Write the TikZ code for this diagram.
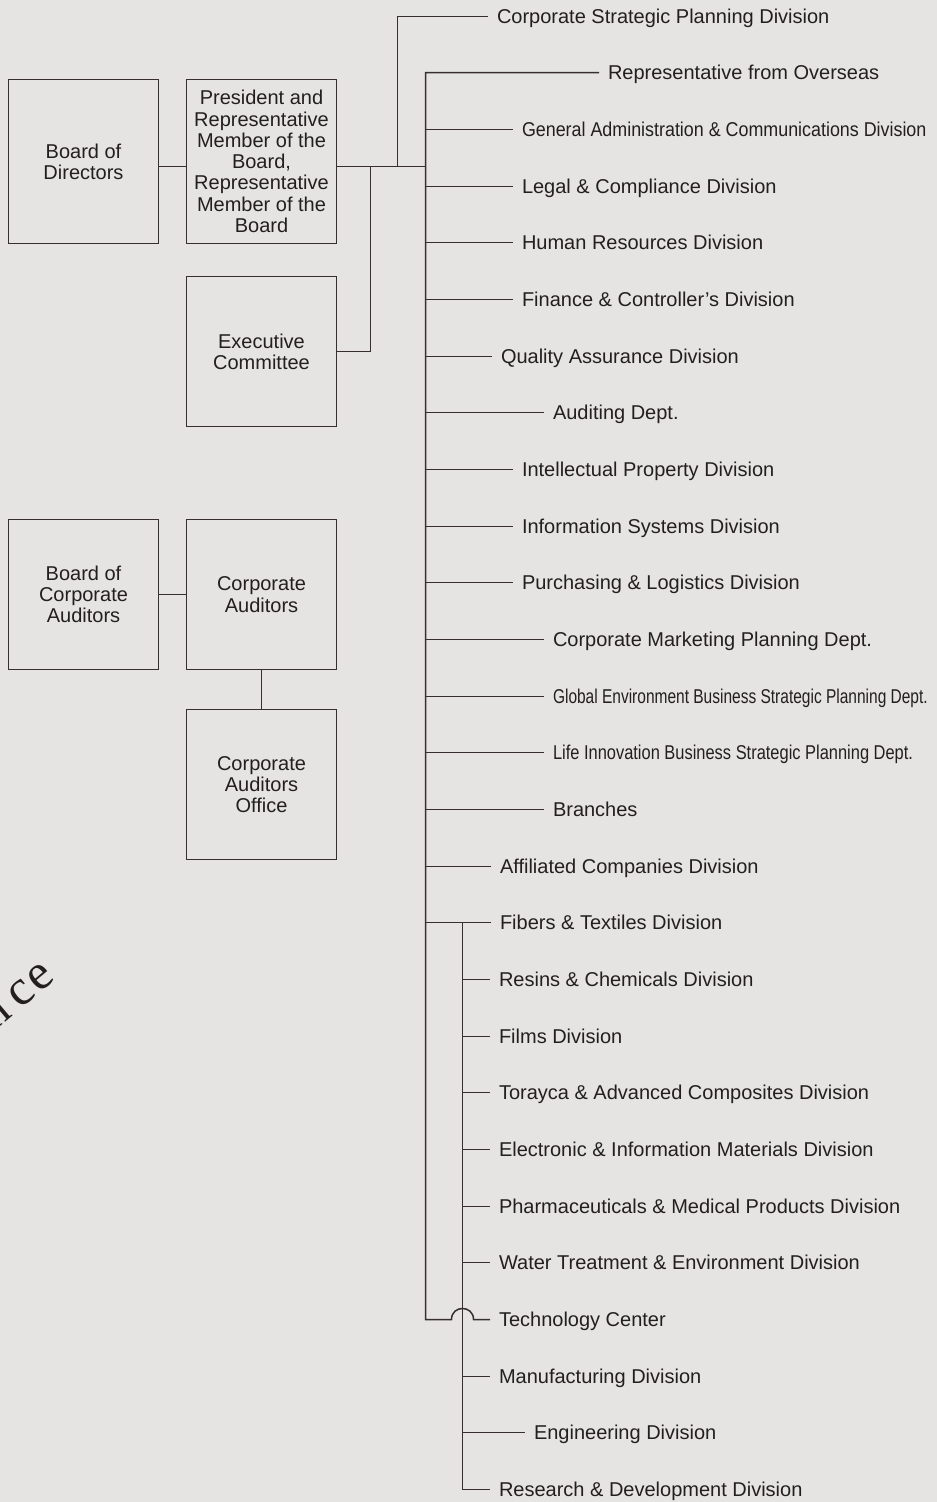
\documentclass[tikz,border=0pt]{standalone}
\usepackage{fontspec}
\usepackage{graphicx}
\setmainfont{Liberation Sans}
\newfontfamily\wmfont[LetterSpace=6]{Liberation Serif}
\definecolor{bg}{RGB}{229,228,226}
\definecolor{ln}{RGB}{55,47,47}
\definecolor{tx}{RGB}{35,31,32}
\newcommand{\cnd}[2]{\scalebox{#1}[1]{#2}}
\tikzset{
  box/.style={draw=ln, line width=1.5pt, minimum width=150pt, inner sep=0pt,
    align=center, text=tx, font=\fontsize{20}{21.3}\selectfont},
  lbl/.style={anchor=west, inner xsep=9pt, inner ysep=0pt, outer sep=0pt,
    text height=14pt, text depth=0pt, text=tx, font=\fontsize{20}{24}\selectfont},
  wm/.style={rotate=40, anchor=base east, inner sep=0pt, text=tx,
    font=\wmfont\fontsize{50}{50}\selectfont},
  conn/.style={draw=ln, line width=1.5pt},
}
\begin{document}
\begin{tikzpicture}[x=1pt, y=-1pt]
\path[use as bounding box, fill=bg] (0,0) rectangle (937,1502);
\clip (0,0) rectangle (937,1502);

% watermark fragment
\node[wm] (wmce) at (57,979) {ce};
\node[wm] (wmn) at ([shift={(-7,6)}]wmce.base west) {n};

% boxes
\node[box, minimum height=164pt] (bod) at (83.5,161.5) {Board of\\Directors};
\node[box, minimum height=164pt] (pres) at (261.5,161.5)
  {President and\\Representative\\Member of the\\Board,\\Representative\\Member of the\\Board};
\node[box, minimum height=150pt] (exec) at (261.5,351.5) {Executive\\Committee};
\node[box, minimum height=150pt] (boca) at (83.5,594.5) {Board of\\Corporate\\Auditors};
\node[box, minimum height=150pt] (ca) at (261.5,594.5) {Corporate\\Auditors};
\node[box, minimum height=150pt] (cao) at (261.5,784.5) {Corporate\\Auditors\\Office};

% labels
\node[lbl] (n1)  at (488,16.5)    {Corporate Strategic Planning Division};
\node[lbl] (n2)  at (599,72.5)    {Representative from Overseas};
\node[lbl] (n3)  at (513,129.5)   {\cnd{0.894}{General Administration \& Communications Division}};
\node[lbl] (n4)  at (513,186.5)   {Legal \& Compliance Division};
\node[lbl] (n5)  at (513,242.5)   {Human Resources Division};
\node[lbl] (n6)  at (513,299.5)   {Finance \& Controller’s Division};
\node[lbl] (n7)  at (492,356.5)   {Quality Assurance Division};
\node[lbl] (n8)  at (544,412.5)   {Auditing Dept.};
\node[lbl] (n9)  at (513,469.5)   {Intellectual Property Division};
\node[lbl] (n10) at (513,526.5)   {Information Systems Division};
\node[lbl] (n11) at (513,582.5)   {Purchasing \& Logistics Division};
\node[lbl] (n12) at (544,639.5)   {Corporate Marketing Planning Dept.};
\node[lbl] (n13) at (544,696.5)   {\cnd{0.775}{Global Environment Business Strategic Planning Dept.}};
\node[lbl] (n14) at (544,752.5)   {\cnd{0.822}{Life Innovation Business Strategic Planning Dept.}};
\node[lbl] (n15) at (544,809.5)   {Branches};
\node[lbl] (n16) at (491,866.5)   {Affiliated Companies Division};
\node[lbl] (n17) at (491,922.5)   {Fibers \& Textiles Division};
\node[lbl] (n18) at (490,979.5)   {Resins \& Chemicals Division};
\node[lbl] (n19) at (490,1036.5)  {Films Division};
\node[lbl] (n20) at (490,1092.5)  {Torayca \& Advanced Composites Division};
\node[lbl] (n21) at (490,1149.5)  {Electronic \& Information Materials Division};
\node[lbl] (n22) at (490,1206.5)  {Pharmaceuticals \& Medical Products Division};
\node[lbl] (n23) at (490,1262.5)  {Water Treatment \& Environment Division};
\node[lbl] (n24) at (490,1319.5)  {Technology Center};
\node[lbl] (n25) at (490,1376.5)  {Manufacturing Division};
\node[lbl] (n26) at (525,1432.5)  {Engineering Division};
\node[lbl] (n27) at (490,1489.5)  {Research \& Development Division};

% junctions
\coordinate (jA) at (397.5,166.5);
\coordinate (jB) at (370.5,166.5);
\coordinate (T)  at (425.5,166.5);
\coordinate (tb) at (425.5,1319.5);
\coordinate (S)  at (462.5,922.5);

% top connectors
\draw[conn] (bod.east |- jA) -- (pres.west |- jA);
\draw[conn] (pres.east |- jA) -- (T);
\draw[conn] (jA) |- (n1.west);
\draw[conn] (exec.east) -| (jB);

% auditors
\draw[conn] (boca.east) -- (ca.west);
\draw[conn] (ca.south) -- (cao.north);

% main trunk with hop over the sub trunk
\draw[conn] (n2.west) -| (tb) -- (451.5,1319.5)
  .. controls (451.5,1304.8) and (473.5,1304.8) .. (473.5,1319.5) -- (n24.west);
\foreach \k in {3,...,17} {
  \draw[conn] (n\k.west -| T) -- (n\k.west);
}
% sub trunk
\draw[conn] (S) |- (n27.west);
\foreach \k in {18,19,20,21,22,23,25,26} {
  \draw[conn] (n\k.west -| S) -- (n\k.west);
}
\end{tikzpicture}
\end{document}
